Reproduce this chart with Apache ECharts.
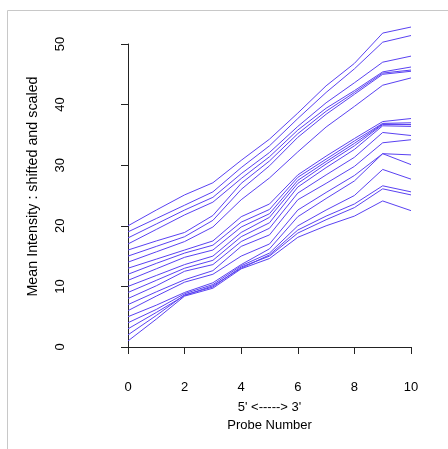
<!DOCTYPE html>
<html>
<head>
    <meta charset="UTF-8">
    <title>RNA degradation</title>
    <script src="https://cdn.jsdelivr.net/npm/echarts@6/dist/echarts.min.js"></script>
    <style>
        body { margin: 0; background: #fff; }
    </style>
</head>
<body>
    <div id="main" style="width:448px;height:449px;"></div>
    <script type="text/javascript">
        // probe positions 5' -> 3'
        var probes = [0, 1, 2, 3, 4, 5, 6, 7, 8, 9, 10];
        var xTicks = [0, 2, 4, 6, 8, 10];
        var yTicks = [0, 10, 20, 30, 40, 50];

        // mean intensity per chip, shifted and scaled
        var chip01 = [1, 4.6, 8.4, 9.7, 12.9, 14.6, 18.1, 20.0, 21.6, 24.1, 22.5];
        var chip02 = [2, 5.2, 8.6, 9.9, 13.2, 15.0, 18.8, 21.0, 23.0, 26.1, 25.1];
        var chip03 = [3, 5.7, 8.5, 10.1, 13.0, 15.2, 19.3, 21.6, 23.6, 26.6, 25.6];
        var chip04 = [4, 6.2, 8.8, 10.3, 13.4, 15.5, 20.0, 22.6, 25.0, 29.3, 27.7];
        var chip05 = [5, 6.9, 9.0, 10.6, 13.6, 16.2, 21.5, 24.5, 27.4, 31.9, 30.1];
        var chip06 = [6, 8.4, 10.7, 12.0, 15.0, 17.0, 22.6, 25.5, 28.3, 31.9, 31.7];
        var chip07 = [7, 9.1, 11.1, 12.6, 16.6, 18.5, 24.3, 27.0, 29.8, 33.7, 34.2];
        var chip08 = [8, 10.1, 12.5, 13.6, 17.4, 19.6, 25.4, 28.4, 31.3, 35.4, 34.9];
        var chip09 = [9, 11.0, 13.0, 14.3, 18.2, 20.5, 26.4, 29.6, 32.6, 36.5, 36.4];
        var chip10 = [10, 11.8, 13.6, 15.0, 18.9, 21.4, 27.0, 30.2, 33.2, 36.7, 36.7];
        var chip11 = [11, 12.9, 14.8, 16.0, 19.8, 22.0, 27.5, 30.6, 33.6, 36.8, 36.7];
        var chip12 = [12, 13.8, 15.5, 16.8, 20.6, 22.7, 28.0, 31.0, 34.0, 36.9, 37.0];
        var chip13 = [13, 14.5, 16.0, 17.5, 21.5, 23.6, 28.4, 31.5, 34.4, 37.2, 37.7];
        var chip14 = [14, 15.7, 17.4, 19.8, 24.3, 27.9, 32.2, 36.3, 39.7, 43.2, 44.4];
        var chip15 = [15, 16.6, 18.2, 20.9, 26.0, 29.9, 34.6, 38.4, 41.7, 45.0, 45.5];
        var chip16 = [16, 17.5, 18.9, 21.7, 27.0, 30.7, 35.2, 38.9, 42.0, 45.2, 45.7];
        var chip17 = [17, 19.4, 21.8, 23.9, 27.8, 31.4, 35.8, 39.4, 42.3, 45.4, 46.2];
        var chip18 = [18, 20.3, 22.6, 24.7, 28.6, 32.1, 36.4, 40.3, 43.6, 47.0, 48.0];
        var chip19 = [19, 21.2, 23.4, 25.6, 29.6, 33.2, 37.7, 42.0, 45.9, 50.3, 51.4];
        var chip20 = [20, 22.6, 25.1, 27.1, 30.8, 34.3, 38.6, 43.1, 46.8, 51.8, 52.8];

        var chips = [chip01, chip02, chip03, chip04, chip05, chip06, chip07, chip08, chip09, chip10,
            chip11, chip12, chip13, chip14, chip15, chip16, chip17, chip18, chip19, chip20];

        var fontFam = 'Liberation Sans, Arial, sans-serif';
        var lineColor = '#5a42f2';

        var seriesList = [];
        for (var i = 0; i < chips.length; i++) {
            var pts = [];
            for (var j = 0; j < probes.length; j++) {
                pts.push([probes[j], chips[i][j]]);
            }
            seriesList.push({
                type: 'line',
                data: pts,
                showSymbol: false,
                clip: false,
                silent: true,
                lineStyle: { color: lineColor, width: 1 }
            });
        }

        var myChart = echarts.init(document.getElementById('main'));
        myChart.setOption({
            animation: false,
            backgroundColor: '#fff',
            grid: { left: 128, right: 37, top: 44, bottom: 102 },
            xAxis: {
                type: 'value',
                min: xTicks[0],
                max: xTicks[xTicks.length - 1],
                interval: 2,
                offset: 14,
                name: "5' <-----> 3'\nProbe Number",
                nameLocation: 'middle',
                nameGap: 34,
                nameTextStyle: { fontFamily: fontFam, fontSize: 13, color: '#000', lineHeight: 18 },
                splitLine: { show: false },
                axisLine: { lineStyle: { color: '#222', width: 1 } },
                axisTick: { inside: false, length: 7, lineStyle: { color: '#222' } },
                axisLabel: { fontFamily: fontFam, fontSize: 13, color: '#000', margin: 20 }
            },
            yAxis: {
                type: 'value',
                min: yTicks[0],
                max: yTicks[yTicks.length - 1],
                interval: 10,
                offset: 42,
                name: 'Mean Intensity : shifted and scaled',
                nameLocation: 'middle',
                nameRotate: 90,
                nameGap: 46,
                nameTextStyle: { fontFamily: fontFam, fontSize: 14.3, color: '#000', padding: [0, 0, 0, 18] },
                splitLine: { show: false },
                axisLine: { show: true, lineStyle: { color: '#222', width: 1 } },
                axisTick: { show: true, inside: false, length: 7, lineStyle: { color: '#222' } },
                axisLabel: { fontFamily: fontFam, fontSize: 13, color: '#000', rotate: 90, margin: 19 }
            },
            graphic: [
                { type: 'line', shape: { x1: 7.5, y1: 10.5, x2: 7.5, y2: 449 }, style: { stroke: '#c8c8c8', lineWidth: 1 } },
                { type: 'line', shape: { x1: 7.5, y1: 10.5, x2: 448, y2: 10.5 }, style: { stroke: '#c8c8c8', lineWidth: 1 } }
            ],
            series: seriesList
        });
    </script>
</body>
</html>
